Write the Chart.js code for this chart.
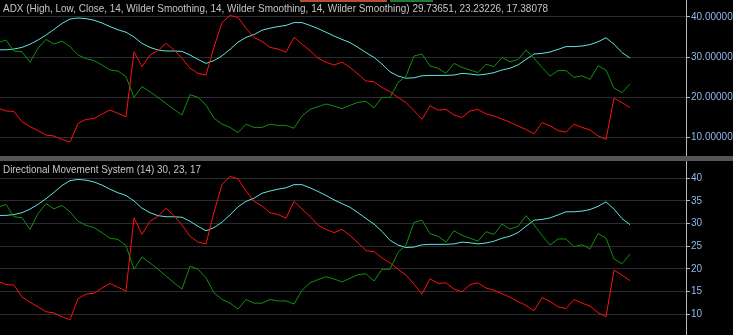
<!DOCTYPE html>
<html>
<head>
<meta charset="utf-8">
<script src="https://cdn.jsdelivr.net/npm/chart.js@4"></script>
<style>
  body { margin: 0; background: #000; width: 733px; height: 335px; overflow: hidden; }
  canvas { display: block; }
  #sep { height: 5px; background: #555; }
</style>
</head>
<body>
<canvas id="adxChart" width="733" height="156"></canvas>
<div id="sep"></div>
<canvas id="dmsChart" width="733" height="174"></canvas>
<script>
// ADX line (cyan)
const adx = [
  31.8, 31.8, 32.0, 32.4, 33.2, 34.25, 35.5, 36.9, 38.4, 39.5,
  39.75, 39.6, 39.2, 38.5, 37.6, 36.8, 36.2, 35.0, 33.4, 32.4,
  31.75, 31.5, 31.5, 31.4, 30.5, 29.4, 28.4, 29.1, 30.3, 31.9,
  33.7, 34.9, 35.6, 36.7, 37.2, 37.6, 37.9, 38.6, 38.6, 37.9,
  37.1, 36.2, 35.25, 34.4, 33.6, 32.4, 31.1, 29.9, 28.25, 26.3,
  25.25, 24.7, 24.8, 25.3, 25.4, 25.4, 25.4, 25.5, 25.9, 25.75,
  25.5, 25.7, 26.1, 26.75, 27.2, 28.0, 29.4, 30.75, 30.9, 31.25,
  31.9, 32.6, 32.6, 32.75, 33.1, 33.8, 34.8, 33.2, 31.1, 29.74
];
// +DI line (green)
const plusDI = [
  33.6, 34.25, 31.5, 31.3, 28.7, 32.2, 34.4, 33.25, 34.0, 32.6,
  30.5, 29.6, 29.1, 28.0, 26.75, 26.5, 25.1, 19.9, 22.6, 21.3,
  19.9, 18.4, 16.9, 15.5, 20.6, 19.9, 18.0, 14.7, 13.25, 12.4,
  11.1, 13.2, 12.4, 12.4, 13.2, 12.9, 12.9, 12.2, 15.25, 16.9,
  17.6, 18.25, 17.75, 17.1, 17.9, 18.7, 18.9, 17.3, 19.9, 19.9,
  23.6, 25.25, 30.25, 30.75, 27.75, 27.2, 25.9, 28.4, 27.4, 26.75,
  26.1, 28.2, 27.6, 29.9, 28.8, 29.4, 31.75, 29.7, 27.4, 25.25,
  26.6, 26.6, 24.9, 25.3, 24.4, 27.8, 26.75, 22.2, 21.1, 23.23
];
// -DI line (red)
const minusDI = [
  17.25, 16.5, 16.4, 13.8, 12.6, 11.6, 10.5, 10.25, 9.4, 8.75,
  13.4, 14.4, 14.6, 15.75, 16.75, 15.9, 15.1, 31.3, 27.6, 30.5,
  31.6, 33.4, 31.75, 29.7, 27.2, 25.9, 25.5, 32.5, 38.6, 40.4,
  39.9, 37.2, 34.9, 33.9, 32.4, 32.0, 31.2, 34.9, 33.2, 31.6,
  29.7, 28.7, 28.0, 28.7, 27.4, 25.75, 24.0, 23.8, 22.4, 21.3,
  19.9, 18.6, 16.6, 14.4, 17.8, 16.75, 16.9, 15.5, 14.9, 16.5,
  16.9, 15.75, 15.25, 14.5, 13.7, 12.75, 11.9, 10.75, 13.6, 12.8,
  11.6, 11.2, 13.2, 12.4, 11.75, 10.3, 9.4, 19.7, 18.6, 17.38
];
const bars = adx.map((_, i) => i);

const topTicks = [10, 20, 30, 40];
const bottomTicks = [10, 15, 20, 25, 30, 35, 40];

const topTitle = 'ADX (High, Low, Close, 14, Wilder Smoothing, 14, Wilder Smoothing, 14, Wilder Smoothing) 29.73651, 23.23226, 17.38078';
const bottomTitle = 'Directional Movement System (14) 30, 23, 17';

const colors = {
  adx: '#5ce6dc',
  plus: '#11900f',
  minus: '#ff1010',
  grid: '#2c2c30',
  axis: '#b8b8b8',
  tick: '#8fb8ea',
  title: '#c6c6c6',
};

// Panel caption drawn over the plot area, squeezed to the reference width
function captionPlugin(text, maxWidth, marks) {
  return {
    id: 'caption',
    afterDraw(chart) {
      const ctx = chart.ctx;
      ctx.save();
      if (marks) {
        ctx.fillStyle = '#b3502c';
        ctx.fillRect(300, 0, 87, 2);
        ctx.fillStyle = '#1f7a3a';
        ctx.fillRect(390, 0, 43, 2);
      }
      ctx.font = '11px "Liberation Sans", Arial, sans-serif';
      ctx.fillStyle = colors.title;
      ctx.textBaseline = 'top';
      ctx.fillText(text, 3, 3, maxWidth);
      ctx.restore();
    },
  };
}

function buildPanel(canvasId, yMin, yMax, ticks, fmt, title, titleWidth, marks) {
  return new Chart(document.getElementById(canvasId), {
    type: 'line',
    data: {
      labels: bars,
      datasets: [
        { data: plusDI, borderColor: colors.plus },
        { data: minusDI, borderColor: colors.minus },
        { data: adx, borderColor: colors.adx },
      ].map(d => ({ ...d, borderWidth: 1, pointRadius: 0, tension: 0, fill: false })),
    },
    options: {
      responsive: false,
      animation: false,
      events: [],
      layout: { padding: 0 },
      plugins: { legend: { display: false }, tooltip: { enabled: false } },
      scales: {
        x: { type: 'linear', min: 0.25, max: 86, display: false },
        y: {
          position: 'right',
          min: yMin,
          max: yMax,
          afterBuildTicks: s => { s.ticks = ticks.map(v => ({ value: v })); },
          afterFit: s => {
            s.width = 47;
            s.paddingTop = 0;
            s.paddingBottom = 0;
          },
          grid: { color: colors.grid, tickColor: colors.axis, tickLength: 4, lineWidth: 1 },
          border: { display: true, color: colors.axis, width: 1 },
          ticks: {
            color: colors.tick,
            padding: 1,
            font: { family: '"Liberation Sans", Arial, sans-serif', size: 10 },
            callback: fmt,
          },
        },
      },
    },
    plugins: [captionPlugin(title, titleWidth, marks)],
  });
}

buildPanel('adxChart', 5.25, 44.25, topTicks, v => v.toFixed(5), topTitle, 545, true);
buildPanel('dmsChart', 5.36, 43.83, bottomTicks, v => String(v), bottomTitle, 198, false);
</script>
</body>
</html>
